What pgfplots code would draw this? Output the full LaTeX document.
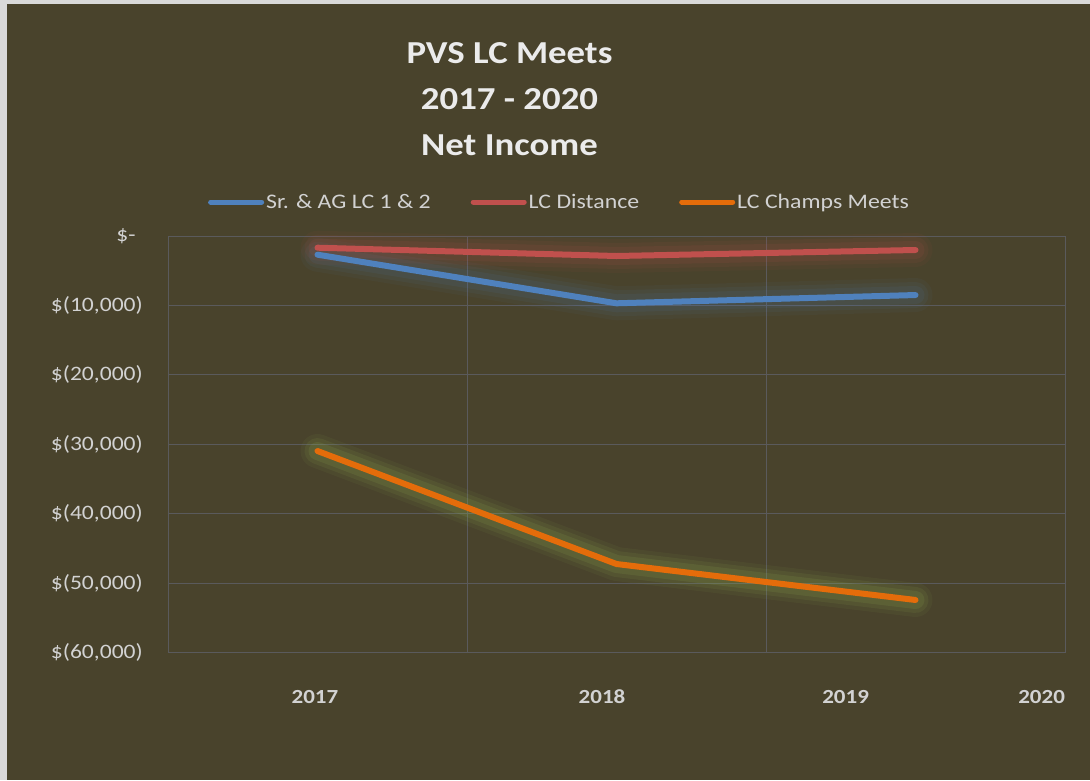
\documentclass[border=0pt]{standalone}
\usepackage{fontspec}
\setmainfont{Carlito}[FakeStretch=1.15]
\usepackage{pgfplots}
\usepackage{pgfplotstable}
\pgfplotsset{compat=1.18}
\definecolor{bg}{RGB}{73,67,44}
\definecolor{framec}{RGB}{217,217,217}
\definecolor{gridc}{RGB}{90,90,92}
\definecolor{sblue}{HTML}{4F81BD}
\definecolor{sred}{HTML}{C0504D}
\definecolor{sorange}{HTML}{E46C0A}
\definecolor{glowgreen}{HTML}{9BBB59}
\definecolor{txt}{RGB}{210,210,210}
\definecolor{ttl}{RGB}{235,235,235}

\pgfplotstableread{
x blue red orange
0.5 -2690 -1685 -30960
1.5 -9690 -2880 -47230
2.5 -8500 -2015 -52410
}\datatable

\begin{document}
\begin{tikzpicture}[x=1pt,y=1pt]
\fill[framec] (0,0) rectangle (1090,780);
\fill[bg] (7,0) rectangle (1090,776);
\node[anchor=base, text=ttl, font=\fontsize{32}{38}\selectfont\bfseries, inner sep=0pt] at (509.5,716) {PVS LC Meets};
\node[anchor=base, text=ttl, font=\fontsize{32}{38}\selectfont\bfseries, inner sep=0pt] at (509.5,670) {2017 - 2020};
\node[anchor=base, text=ttl, font=\fontsize{32}{38}\selectfont\bfseries, inner sep=0pt] at (509.5,624) {Net Income};
\begin{axis}[
  at={(168pt,127.3pt)}, anchor=south west,
  scale only axis, width=897pt, height=416.7pt,
  xmin=0, xmax=3, ymin=-60000, ymax=0,
  clip=false,
  axis line style={gridc, line width=1pt},
  major tick length=0pt, minor tick length=0pt,
  scaled y ticks=false,
  ytick={-60000,-50000,-40000,-30000,-20000,-10000,0},
  yticklabels={{\$(60,000)},{\$(50,000)},{\$(40,000)},{\$(30,000)},{\$(20,000)},{\$(10,000)},{\$-\hphantom{)}}},
  ymajorgrids, grid style={gridc, line width=1pt},
  xtick={0.4916,1.4515,2.2662,2.9217},
  xticklabels={2017,2018,2019,2020},
  minor xtick={1,2}, xminorgrids, minor grid style={gridc, line width=1pt},
  yticklabel style={anchor=east, inner sep=0pt, xshift=-25pt, text=txt, font=\fontsize{20.5}{24}\selectfont},
  xticklabel style={anchor=center, inner sep=0pt, yshift=-44pt, text=txt, font=\fontsize{20}{24}\selectfont\bfseries},
  legend columns=3,
  legend cell align=left,
  legend image code/.code={\draw[line width=5pt, line cap=round] (2.5pt,0pt) -- (53.5pt,0pt);},
  legend style={at={(0.4365,1.0816)}, anchor=center, draw=none, fill=none, text=txt,
    font=\fontsize{20.7}{24}\selectfont,
    /tikz/every even column/.append style={column sep=38pt},
    nodes={inner sep=2pt}},
]
% glows
\addplot[forget plot, sblue, opacity=0.05, line width=34pt, line join=round, line cap=round] table[x=x,y=blue]{\datatable};
\addplot[forget plot, sblue, opacity=0.07, line width=26pt, line join=round, line cap=round] table[x=x,y=blue]{\datatable};
\addplot[forget plot, sblue, opacity=0.09, line width=18pt, line join=round, line cap=round] table[x=x,y=blue]{\datatable};
\addplot[forget plot, sred, opacity=0.05, line width=34pt, line join=round, line cap=round] table[x=x,y=red]{\datatable};
\addplot[forget plot, sred, opacity=0.08, line width=26pt, line join=round, line cap=round] table[x=x,y=red]{\datatable};
\addplot[forget plot, sred, opacity=0.10, line width=18pt, line join=round, line cap=round] table[x=x,y=red]{\datatable};
\addplot[forget plot, glowgreen, opacity=0.06, line width=34pt, line join=round, line cap=round] table[x=x,y=orange]{\datatable};
\addplot[forget plot, glowgreen, opacity=0.09, line width=26pt, line join=round, line cap=round] table[x=x,y=orange]{\datatable};
\addplot[forget plot, glowgreen, opacity=0.12, line width=18pt, line join=round, line cap=round] table[x=x,y=orange]{\datatable};
% lines
\addplot[sblue, line width=6pt, line join=round, line cap=round] table[x=x,y=blue]{\datatable};
\addlegendentry{Sr. \& AG LC 1 \& 2}
\addplot[sred, line width=6pt, line join=round, line cap=round] table[x=x,y=red]{\datatable};
\addlegendentry{LC Distance}
\addplot[sorange, line width=6pt, line join=round, line cap=round] table[x=x,y=orange]{\datatable};
\addlegendentry{LC Champs Meets}
\end{axis}
\pgfresetboundingbox
\path[use as bounding box] (0,0) rectangle (1090,780);
\end{tikzpicture}
\end{document}
